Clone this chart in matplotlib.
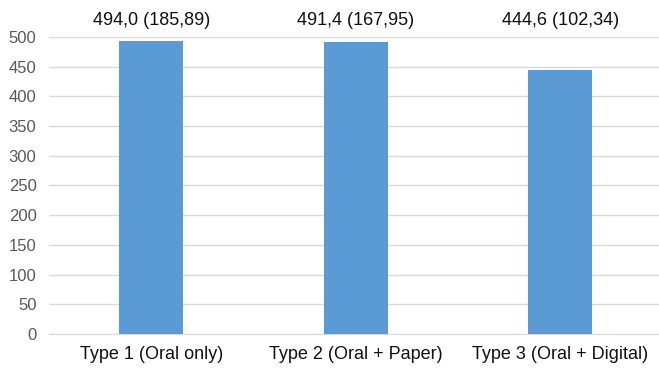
import matplotlib
matplotlib.use('Agg')
import matplotlib.pyplot as plt
import numpy as np

plt.rcParams['font.family'] = ['Liberation Sans Narrow', 'Liberation Sans', 'DejaVu Sans']

categories = ['Type 1 (Oral only)', 'Type 2 (Oral + Paper)', 'Type 3 (Oral + Digital)']
means = [494.0, 491.4, 444.6]
sds = [185.89, 167.95, 102.34]

fig = plt.figure(figsize=(6.59, 3.70), dpi=100)
ax = fig.add_axes([0.0744, 0.0973, 0.931, 0.8027])

x = np.arange(len(categories))
bars = ax.bar(x, means, width=0.313, color='#5B9BD5', zorder=3)

for b, m, s in zip(bars, means, sds):
    label = f"{m:.1f} ({s:.2f})".replace('.', ',')
    ax.text(b.get_x() + b.get_width() / 2, 513, label, ha='center', va='bottom',
            fontsize=13, color='#111111', clip_on=False)

ax.set_xlim(-0.5, 2.5)
ax.set_ylim(0, 500)
ax.set_yticks(np.arange(0, 501, 50))
ax.set_xticks(x)
ax.set_xticklabels(categories, fontsize=13, color='#111111')
ax.tick_params(axis='y', labelsize=12, labelcolor='#595959', length=0, pad=9)
ax.tick_params(axis='x', length=0, pad=9)
ax.grid(axis='y', color='#D9D9D9', linewidth=1, zorder=0)
for side in ['top', 'right', 'left']:
    ax.spines[side].set_visible(False)
ax.spines['bottom'].set_color('#D9D9D9')
ax.spines['bottom'].set_zorder(0)

fig.savefig('out.png', dpi=100)
